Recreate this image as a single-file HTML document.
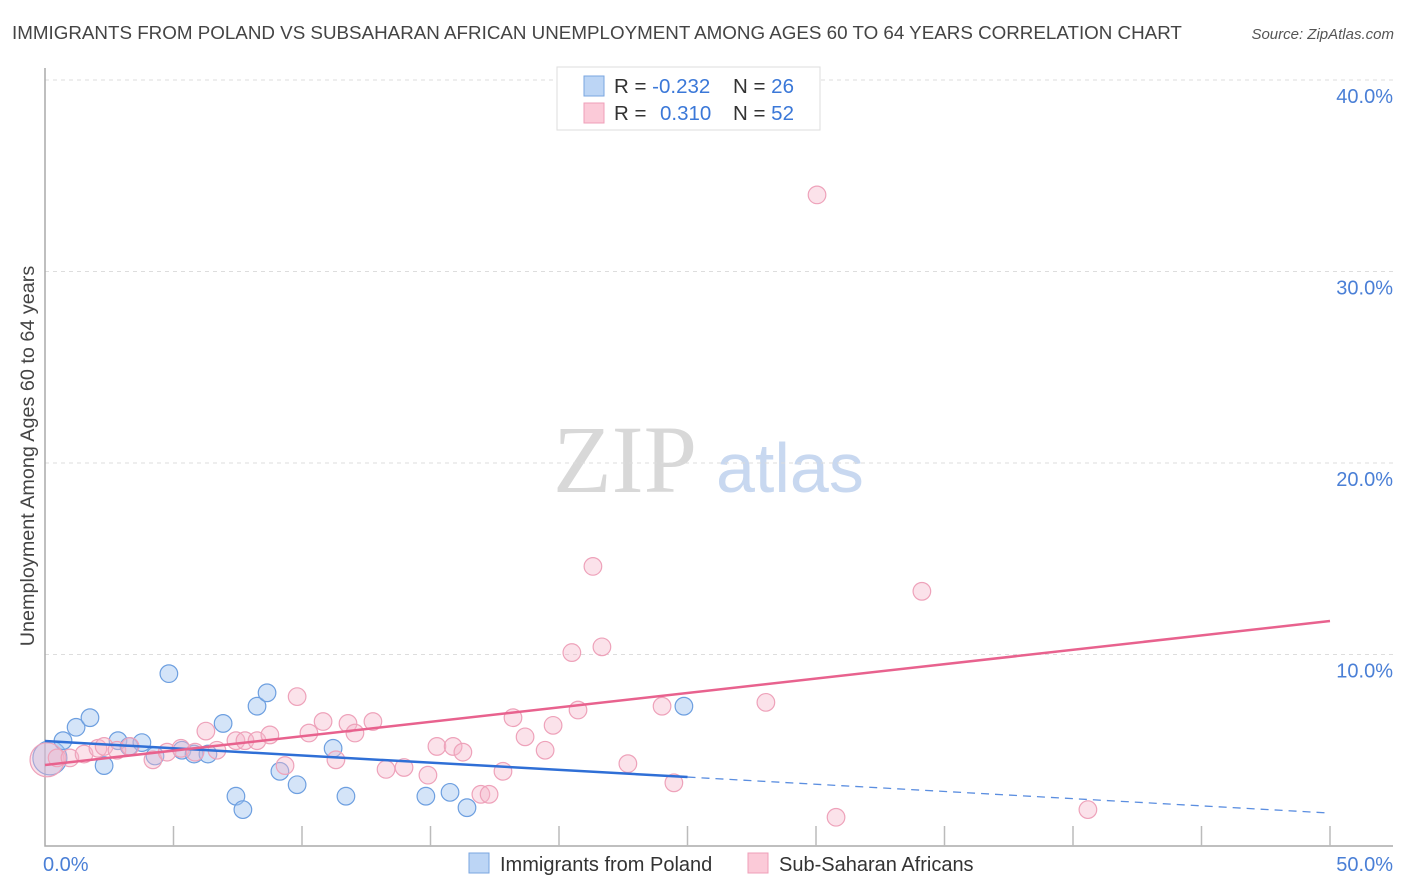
<!DOCTYPE html>
<html><head><meta charset="utf-8"><style>
body{margin:0;background:#fff;font-family:"Liberation Sans",sans-serif;}
svg{display:block}
</style></head><body>
<svg id="chart" width="1406" height="892">
<text x="12" y="39" font-size="18.8" fill="#444">IMMIGRANTS FROM POLAND VS SUBSAHARAN AFRICAN UNEMPLOYMENT AMONG AGES 60 TO 64 YEARS CORRELATION CHART</text>
<text x="1394" y="39" font-size="15" font-style="italic" fill="#555" text-anchor="end">Source: ZipAtlas.com</text>
<text transform="translate(34,456) rotate(-90)" font-size="19.8" fill="#444" text-anchor="middle">Unemployment Among Ages 60 to 64 years</text>
<g><text x="553" y="492" font-family="Liberation Serif,serif" font-size="96" fill="#d8d8d8">ZIP</text><text x="716" y="492" font-size="70" fill="#c8d8f0">atlas</text></g>
<g id="grid"></g><g id="axes"></g><g id="marks"></g>
<g>
<rect x="557" y="67" width="263" height="63" fill="#fff" stroke="#ddd"/>
<rect x="584" y="76" width="20" height="20" fill="#bcd5f5" stroke="#7aa6e0"/>
<rect x="584" y="103" width="20" height="20" fill="#fbcad8" stroke="#ef9fb8"/>
<text x="614" y="93" font-size="20.5" fill="#333">R = <tspan fill="#3b78d8">-0.232</tspan><tspan x="733">N = </tspan><tspan fill="#3b78d8">26</tspan></text>
<text x="614" y="120" font-size="20.5" fill="#333">R = <tspan x="660" fill="#3b78d8">0.310</tspan><tspan x="733">N = </tspan><tspan fill="#3b78d8">52</tspan></text>
</g>
<g>
<rect x="469" y="853" width="20" height="20" fill="#bcd5f5" stroke="#7aa6e0"/>
<text x="500" y="871" font-size="20" fill="#333">Immigrants from Poland</text>
<rect x="748" y="853" width="20" height="20" fill="#fbcad8" stroke="#ef9fb8"/>
<text x="779" y="871" font-size="20" fill="#333">Sub-Saharan Africans</text>
</g>
</svg>
<script>
const yTicks=[10,20,30,40];
const yTickLabels=["10.0%","20.0%","30.0%","40.0%"];
const xTickLabels=["0.0%","50.0%"];
const polandX=[0.19,0.70,1.21,1.75,2.30,2.84,3.27,3.77,4.28,4.82,5.33,5.80,6.34,6.93,7.43,7.70,8.25,8.64,9.14,9.81,11.21,11.71,14.82,15.76,16.42,24.86];
const polandY=[4.6,5.5,6.2,6.7,4.2,5.5,5.2,5.4,4.7,9.0,5.0,4.8,4.8,6.4,2.6,1.9,7.3,8.0,3.9,3.2,5.1,2.6,2.6,2.8,2.0,7.3];
const africaX=[0.08,0.47,0.97,1.52,2.06,2.30,2.80,3.31,4.20,4.75,5.29,5.84,6.26,6.69,7.43,7.78,8.25,8.75,9.34,9.81,10.27,10.82,11.32,11.79,12.06,12.76,13.27,13.97,14.90,15.25,15.88,16.26,16.96,17.28,17.82,18.21,18.68,19.46,19.77,20.50,20.74,21.32,21.67,22.68,24.01,24.47,28.05,30.04,30.78,34.12,40.58];
const africaY=[4.5,4.6,4.6,4.8,5.1,5.2,5.0,5.2,4.5,4.9,5.1,4.9,6.0,5.0,5.5,5.5,5.5,5.8,4.2,7.8,5.9,6.5,4.5,6.4,5.9,6.5,4.0,4.1,3.7,5.2,5.2,4.9,2.7,2.7,3.9,6.7,5.7,5.0,6.3,10.1,7.1,14.6,10.4,4.3,7.3,3.3,7.5,34.0,1.5,13.3,1.9];
const polandTrend=[5.48,1.72];
const africaTrend=[4.23,11.75];
const NS="http://www.w3.org/2000/svg";
const X=v=>45+v/50*1285, Y=v=>846-v/10*191.5;
function mk(p,t,a){const e=document.createElementNS(NS,t);for(const k in a)e.setAttribute(k,a[k]);document.getElementById(p).appendChild(e);return e;}
yTicks.forEach((t,i)=>{
 const g=mk('grid','line',{x1:45,x2:1393,y1:Y(t),y2:Y(t),stroke:'#ddd','stroke-dasharray':'4,4'});
 
 
 const l=mk('grid','text',{x:1393,y:Y(t)+23,'font-size':20,fill:'#4a7fd6','text-anchor':'end'});
 l.textContent=yTickLabels[i];
 
 
});
const ax=mk('axes','path',{d:'M45,68V846H1393',fill:'none',stroke:'#aaa','stroke-width':1.5});


for(let i=1;i<=10;i++){const t=mk('axes','line',{x1:X(i*5),x2:X(i*5),y1:826,y2:846,stroke:'#bbb','stroke-width':1.5});
 
 }
const xl0=mk('axes','text',{x:43,y:871,'font-size':20,fill:'#4a7fd6'});xl0.textContent=xTickLabels[0];


const xl1=mk('axes','text',{x:1393,y:871,'font-size':20,fill:'#4a7fd6','text-anchor':'end'});xl1.textContent=xTickLabels[1];


function pts(xs,ys,fill,stroke,name){xs.forEach((x,i)=>{const c=mk('marks','circle',{cx:X(x),cy:Y(ys[i]),r:i==0?17:8.8,fill:fill,stroke:stroke,'stroke-width':1.2});
 
 });}
pts(polandX,polandY,'rgba(160,196,240,0.45)','#6d9fe0','poland-point');
pts(africaX,africaY,'rgba(246,182,202,0.4)','#eea2ba','subsaharan-point');
const ymid=polandTrend[0]+(polandTrend[1]-polandTrend[0])*0.5;
const bl=mk('marks','line',{x1:X(0),y1:Y(polandTrend[0]),x2:X(25),y2:Y(ymid),stroke:'#2f6fd6','stroke-width':2.5});


const bd=mk('marks','line',{x1:X(25),y1:Y(ymid),x2:X(50),y2:Y(polandTrend[1]),stroke:'#5b8ee0','stroke-width':1.3,'stroke-dasharray':'8,6'});


const pl=mk('marks','line',{x1:X(0),y1:Y(africaTrend[0]),x2:X(50),y2:Y(africaTrend[1]),stroke:'#e8628e','stroke-width':2.5});


</script>
</body></html>
